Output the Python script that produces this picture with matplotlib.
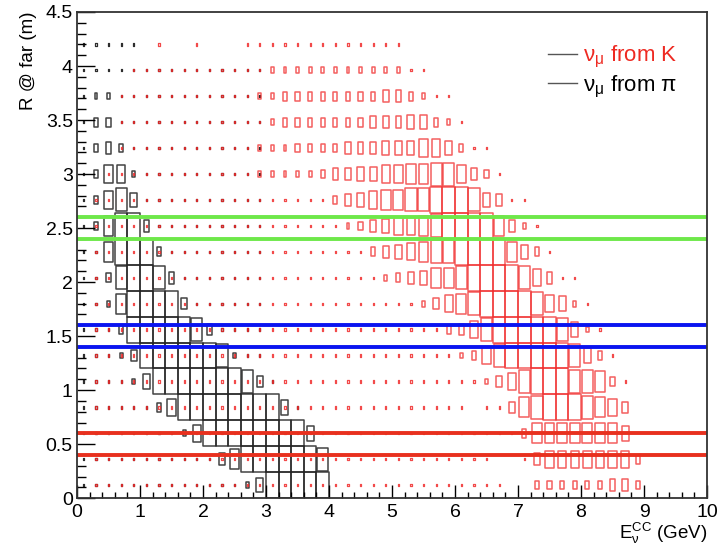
import numpy as np
import matplotlib
matplotlib.use('Agg')
import matplotlib.pyplot as plt
from matplotlib.patches import Rectangle
from matplotlib.collections import PatchCollection
from matplotlib.lines import Line2D
from matplotlib.ticker import MultipleLocator

plt.rcParams['font.family'] = ['Liberation Sans', 'DejaVu Sans']
plt.rcParams['mathtext.fontset'] = 'custom'
plt.rcParams['mathtext.rm'] = 'Liberation Sans'
plt.rcParams['mathtext.it'] = 'Liberation Sans'

# binning: 50 bins in E (0-10 GeV), 18 bins in R (0.24 m each)
e_edges = np.linspace(0, 10, 51)
r_edges = np.arange(19) * 0.24

# box size level (0-9) per cell, rows from top (R=4.2) to bottom (R=0.12)
pi_rows = [
    "11111" + "0" * 45,
    "1" * 15 + "0" * 35,
    "122" + "1" * 12 + "0" * 35,
    "1331" + "1" * 11 + "0" * 35,
    "1343" + "1" * 11 + "0" * 35,
    "13662" + "1" * 10 + "0" * 35,
    "13685" + "1" * 10 + "0" * 35,
    "137994" + "1" * 9 + "0" * 35,
    "1179993" + "1" * 8 + "0" * 35,
    "11389984" + "1" * 7 + "0" * 35,
    "112799994" + "1" * 6 + "0" * 35,
    "11139999984" + "1111" + "0" * 35,
    "11124" + "999999" + "8211" + "0" * 35,
    "11112" + "5" + "9999999" + "841" + "0" * 34,
    "111111" + "36" + "99999999" + "51" + "0" * 32,
    "11111111" + "26" + "99999999" + "5" + "0" * 31,
    "1" * 11 + "47" + "999999" + "8" + "0" * 30,
    "1" * 13 + "25" + "99999" + "0" * 30,
]

k_rows = [
    "000000" + "1" + "00" + "1" + "000" + "1" * 13 + "0" * 24,
    "0000" + "1" * 9 + "11" + "2" * 11 + "11" + "0" * 22,
    "000" + "1" * 9 + "11" + "22" + "3" * 8 + "44" + "3" + "2" + "11" + "0" * 20,
    "000" + "1" * 10 + "11" + "2" + "3333333" + "444" + "55" + "3" + "2" + "1" + "0" * 19,
    "000" + "1" * 10 + "1" + "222" + "3333" + "444" + "555" + "66" + "5" + "3" + "11" + "0" * 17,
    "00" + "1" * 12 + "22222" + "3" + "44" + "55" + "66" + "77" + "88" + "6" + "4" + "3" + "1" + "0" * 16,
    "0" + "1" * 19 + "3456778899" + "9" + "8" + "5" + "4" + "11" + "0" * 14,
    "0" + "1" * 20 + "2345667899" + "99" + "7" + "4" + "2" + "1" + "0" * 13,
    "0" + "1" * 22 + "3456788999" + "9" + "7" + "5" + "3" + "1" + "0" * 12,
    "0" + "1" * 23 + "2345778999" + "9" + "8" + "6" + "4" + "11" + "0" * 10,
    "0" + "1" * 26 + "24678999" + "9" + "8" + "6" + "5" + "2" + "1" + "0" * 9,
    "0" + "1" * 28 + "346899999" + "8521" + "0" * 8,
    "0" + "1" * 29 + "236899999" + "8531" + "0" * 7,
    "0" + "1" * 31 + "2468999887" + "31" + "0" * 6,
    "0" + "1" * 30 + "0" + "11" + "4789998764" + "0" * 6,
    "0" + "1" * 34 + "3" + "7" * 7 + "5" + "0" * 6,
    "0" + "1" * 32 + "00" + "1" + "4" + "6" * 7 + "3" + "0" * 5,
    "0" + "1" * 33 + "00" + "333333" + "44" + "3" + "0" * 5,
]

band_green = [2.4, 2.6]
band_blue = [1.4, 1.6]
band_red = [0.4, 0.6]


def to_grid(rows):
    return np.array([[int(c) for c in r] for r in rows])[::-1]


def boxes(ax, grid, color, alpha=1.0):
    dx = np.diff(e_edges)[0]
    dy = np.diff(r_edges)[0]
    xc = 0.5 * (e_edges[:-1] + e_edges[1:])
    yc = 0.5 * (r_edges[:-1] + r_edges[1:])
    rects, dots = [], []
    for j in range(grid.shape[0]):
        for i in range(grid.shape[1]):
            v = grid[j, i]
            if v == 0:
                continue
            f = 0.09 if v == 1 else v / 9.0
            w, h = f * dx, f * dy
            r = Rectangle((xc[i] - w / 2, yc[j] - h / 2), w, h)
            (dots if v == 1 else rects).append(r)
    ax.add_collection(PatchCollection(rects, facecolor='none', edgecolor=color,
                                      linewidth=1.1, alpha=alpha))
    ax.add_collection(PatchCollection(dots, facecolor='none', edgecolor=color,
                                      linewidth=0.9, alpha=min(1.0, alpha + 0.1)))


fig = plt.figure(figsize=(7.2, 5.45), dpi=100)
ax = fig.add_axes([0.107, 0.086, 0.875, 0.892])

boxes(ax, to_grid(pi_rows), '#222222', 0.85)
boxes(ax, to_grid(k_rows), '#f02a2a', 0.75)

for y in band_green:
    ax.axhline(y, color='#6ee84a', lw=2.8)
for y in band_blue:
    ax.axhline(y, color='#0a14f0', lw=2.8)
for y in band_red:
    ax.axhline(y, color='#e8301e', lw=2.8)

ax.set_xlim(0, 10)
ax.set_ylim(0, 4.5)
ax.xaxis.set_major_locator(MultipleLocator(1))
ax.xaxis.set_minor_locator(MultipleLocator(0.2))
ax.yaxis.set_major_locator(MultipleLocator(0.5))
ax.yaxis.set_minor_locator(MultipleLocator(0.1))
ax.tick_params(axis='both', which='both', direction='in', top=False, right=False,
               labelsize=14, width=1.0)
ax.tick_params(axis='x', which='major', length=9.5, pad=4)
ax.tick_params(axis='x', which='minor', length=4.5)
ax.tick_params(axis='y', which='major', length=13, pad=3)
ax.tick_params(axis='y', which='minor', length=6.5)
ax.set_yticks([0, 0.5, 1, 1.5, 2, 2.5, 3, 3.5, 4, 4.5])
ax.set_yticklabels(['0', '0.5', '1', '1.5', '2', '2.5', '3', '3.5', '4', '4.5'])
for s in ax.spines.values():
    s.set_linewidth(1.3)
    s.set_color('#333333')

ax.set_ylabel('R @ far (m)', fontsize=13.5, loc='top', labelpad=6)
ax.set_xlabel(r'E$_{\mathregular{\nu}}^{\mathregular{CC}}$ (GeV)', fontsize=13.5,
              loc='right', labelpad=0)

handles = [Line2D([], [], color='#555555', lw=1.0),
           Line2D([], [], color='#555555', lw=1.0)]
labels = [r'$\mathregular{\nu_{\mu}}$ from K', r'$\mathregular{\nu_{\mu}}$ from $\mathregular{\pi}$']
leg = ax.legend(handles, labels, loc='upper right', bbox_to_anchor=(0.985, 0.975),
                frameon=False, fontsize=16, handlelength=1.3, handletextpad=0.3,
                labelspacing=0.15)
leg.get_texts()[0].set_color('#ee2a22')

fig.savefig('out.png', dpi=100)
